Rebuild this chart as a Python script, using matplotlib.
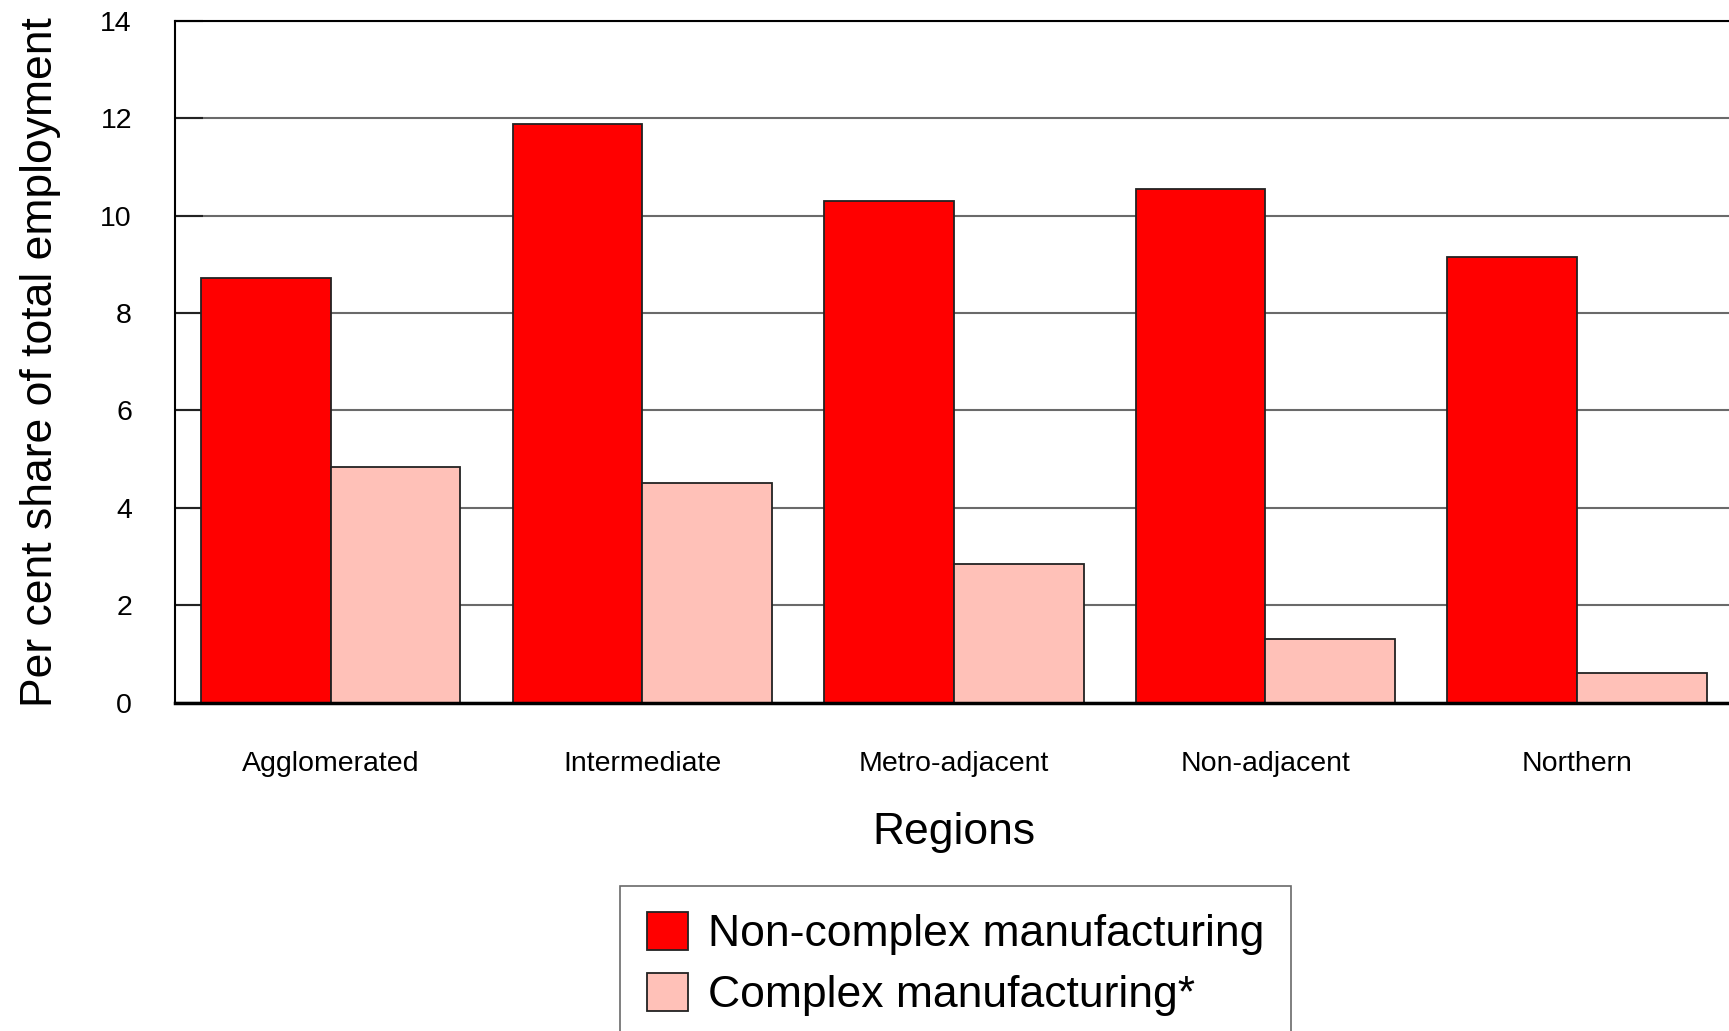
import matplotlib
matplotlib.use("Agg")
import matplotlib.pyplot as plt
import numpy as np

plt.rcParams['font.family'] = ['Liberation Sans', 'DejaVu Sans']

regions = ["Agglomerated", "Intermediate", "Metro-adjacent", "Non-adjacent", "Northern"]
non_complex = [8.72, 11.89, 10.29, 10.54, 9.14]
complex_mfg = [4.84, 4.51, 2.85, 1.30, 0.61]

fig = plt.figure(figsize=(17.29, 10.31), dpi=100)
ax = fig.add_axes([0.1012, 0.3184, 0.9010, 0.6615])

x = np.arange(len(regions))
w = 0.416
ax.bar(x - w / 2, non_complex, w, color="#ff0000", edgecolor="#222222",
       linewidth=1.3, label="Non-complex manufacturing")
ax.bar(x + w / 2, complex_mfg, w, color="#ffc1b8", edgecolor="#222222",
       linewidth=1.3, label="Complex manufacturing*")

ax.set_xlim(-0.5, 4.5)
ax.set_ylim(0, 14)
ax.set_yticks(range(0, 15, 2))
ax.set_xticks(x)
ax.set_xticklabels(regions)
ax.set_axisbelow(True)
ax.yaxis.grid(True, color="#6a6a6a", linewidth=1.5)

ax.tick_params(axis="y", direction="in", length=20, width=1.5, color="#222222",
               labelsize=20.5, pad=31)
ax.tick_params(axis="x", direction="in", length=20, width=1.5, color="#222222",
               labelsize=20.5, pad=35)

ax.spines["right"].set_visible(False)
ax.spines["top"].set_linewidth(1.5)
ax.spines["left"].set_linewidth(1.5)
ax.spines["bottom"].set_linewidth(2.5)

ax.set_xlabel("Regions", fontsize=32, labelpad=25)
ax.set_ylabel("Per cent share of total employment", fontsize=32, labelpad=28)

leg = fig.legend(loc="upper center", bbox_to_anchor=(0.5525, 0.141),
                 fontsize=32, frameon=True, fancybox=False,
                 handlelength=0.92, handleheight=0.92, handletextpad=0.45,
                 borderpad=0.6, labelspacing=0.4, borderaxespad=0)
leg.get_frame().set_edgecolor("#444444")
leg.get_frame().set_linewidth(1.2)

fig.savefig("out.png", dpi=100)
